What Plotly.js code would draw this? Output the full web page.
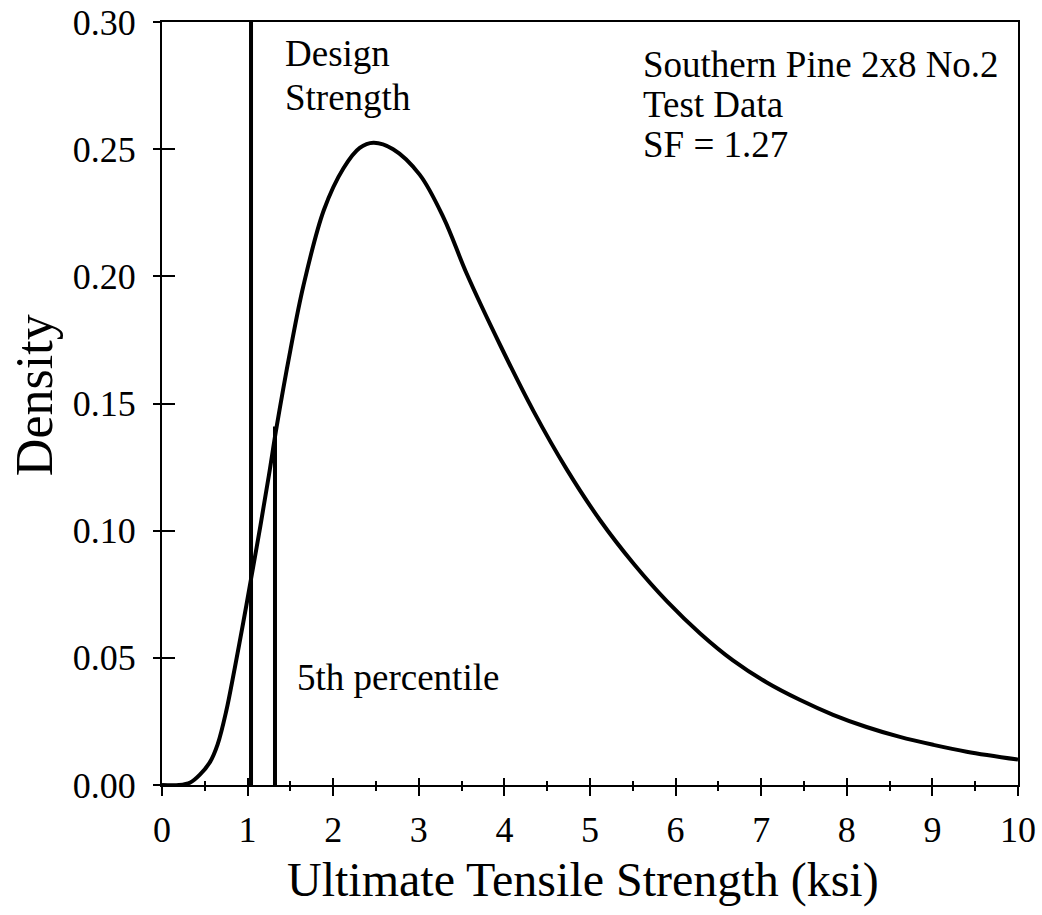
<!DOCTYPE html>
<html>
<head>
<meta charset="utf-8">
<script src="https://cdn.plot.ly/plotly-3.0.1.min.js"></script>
<style>
  html, body { margin: 0; padding: 0; background: #fff; }
  #chart { width: 1042px; height: 915px; }
</style>
</head>
<body>
<div id="chart"></div>
<script>
// Fitted density of ultimate tensile strength (ksi)
const strength = [0, 0.2, 0.33, 0.44, 0.56, 0.65, 0.75, 0.85, 0.95, 1.04, 1.15, 1.25, 1.34, 1.5, 1.65,
  1.89, 2.12, 2.31, 2.47, 2.70, 3.01, 3.29, 3.56, 3.95, 4.34, 4.73, 5.12, 5.51, 5.90, 6.29,
  6.67, 7.06, 7.45, 7.84, 8.23, 8.62, 9.01, 9.40, 10.0];
const density = [0, 0, 0.001, 0.004, 0.009, 0.016, 0.029, 0.046, 0.064, 0.081, 0.102, 0.122, 0.141, 0.171, 0.196,
  0.226, 0.2425, 0.2505, 0.2525, 0.2500, 0.2400, 0.2230, 0.2010, 0.173, 0.147, 0.124, 0.104, 0.087, 0.0722, 0.0595,
  0.0490, 0.0404, 0.0335, 0.0276, 0.0228, 0.0189, 0.0158, 0.0131, 0.0100];

// Reference strengths marked on the curve
const designStrength = 1.04;
const fifthPercentile = 1.32;
const fifthPercentileDensity = 0.141;

const xRange = [0, 10];
const yRange = [0, 0.30];
const xTickVals = [0, 1, 2, 3, 4, 5, 6, 7, 8, 9, 10];
const yTickVals = [0, 0.05, 0.10, 0.15, 0.20, 0.25, 0.30];

const serif = '"Liberation Serif", "Times New Roman", Times, serif';
const ink = '#000';

const traces = [
  {
    x: strength, y: density, type: 'scatter', mode: 'lines',
    line: { color: ink, width: 4, shape: 'spline', smoothing: 1 },
    hoverinfo: 'skip'
  },
  {
    x: [designStrength, designStrength], y: [yRange[0], yRange[1]],
    type: 'scatter', mode: 'lines', xaxis: 'x2', yaxis: 'y2',
    line: { color: ink, width: 4 }, hoverinfo: 'skip'
  },
  {
    x: [fifthPercentile, fifthPercentile], y: [0, fifthPercentileDensity],
    type: 'scatter', mode: 'lines', xaxis: 'x2', yaxis: 'y2',
    line: { color: ink, width: 4 }, hoverinfo: 'skip'
  }
];

// Primary axes carry the labels and the outer part of each tick
const baseX = {
  range: xRange, fixedrange: true, showgrid: false, zeroline: false,
  tickmode: 'array', tickvals: xTickVals
};
const baseY = {
  range: yRange, fixedrange: true, showgrid: false, zeroline: false,
  tickmode: 'array', tickvals: yTickVals
};

function label(text, x, y, size) {
  return {
    text: text, xref: 'x', yref: 'y', x: x, y: y,
    xanchor: 'left', yanchor: 'middle', align: 'left', showarrow: false,
    font: { family: serif, size: size, color: ink }
  };
}

const layout = {
  width: 1042, height: 915,
  margin: { l: 162, r: 24, t: 22, b: 130 },
  paper_bgcolor: '#fff', plot_bgcolor: '#fff',
  showlegend: false,
  font: { family: serif, color: ink, size: 36 },
  xaxis: Object.assign({}, baseX, {
    showline: true, linecolor: ink, linewidth: 2, mirror: true,
    ticks: 'outside', ticklen: 9, tickwidth: 2, tickcolor: ink,
    minor: { dtick: 0.5, ticks: 'outside', ticklen: 4, tickwidth: 2, tickcolor: ink },
    tickfont: { family: serif, size: 36, color: ink },
    ticklabelstandoff: 3
  }),
  yaxis: Object.assign({}, baseY, {
    showline: true, linecolor: ink, linewidth: 2, mirror: true,
    ticks: 'outside', ticklen: 7, tickwidth: 2, tickcolor: ink,
    tickformat: '.2f',
    tickfont: { family: serif, size: 36, color: ink },
    ticklabelstandoff: 10
  }),
  // Overlay axes draw the inner part of the ticks so they cross the frame
  xaxis2: Object.assign({}, baseX, {
    overlaying: 'x', anchor: 'y2', side: 'bottom',
    showline: false, showticklabels: false,
    ticks: 'inside', ticklen: 7, tickwidth: 2, tickcolor: ink,
    minor: { dtick: 0.5, ticks: 'inside', ticklen: 4, tickwidth: 2, tickcolor: ink }
  }),
  yaxis2: Object.assign({}, baseY, {
    overlaying: 'y', anchor: 'x2', side: 'left',
    showline: false, showticklabels: false,
    ticks: 'inside', ticklen: 13, tickwidth: 2, tickcolor: ink
  }),
  annotations: [
    {
      text: 'Ultimate Tensile Strength (ksi)', xref: 'paper', yref: 'paper',
      x: 0.1437, y: -0.124, xanchor: 'left', yanchor: 'middle', showarrow: false,
      font: { family: serif, size: 48, color: ink }
    },
    {
      text: 'Density', xref: 'paper', yref: 'paper', textangle: -90,
      x: -0.1495, y: 0.511, xanchor: 'center', yanchor: 'middle', showarrow: false,
      font: { family: serif, size: 52, color: ink }
    },
    label('Design', 1.413, 0.2876, 37),
    label('Strength', 1.413, 0.2702, 37),
    label('Southern Pine 2x8 No.2', 5.596, 0.2831, 37),
    label('Test Data', 5.596, 0.2674, 37),
    label('SF = 1.27', 5.596, 0.2517, 37),
    label('5th percentile', 1.555, 0.0421, 37)
  ]
};

Plotly.newPlot('chart', traces, layout, { staticPlot: true, displayModeBar: false });
</script>
</body>
</html>
